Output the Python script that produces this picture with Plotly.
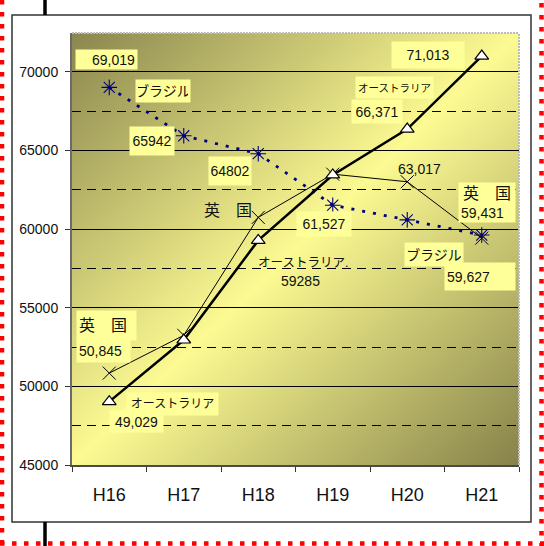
import base64
import plotly.graph_objects as go

# ---------------- data ----------------
years = ["H16", "H17", "H18", "H19", "H20", "H21"]
australia = [49029, 52950, 59285, 63450, 66371, 71013]
uk = [50845, 53250, 60750, 63500, 63017, 59431]
brazil = [69019, 65942, 64802, 61527, 60590, 59627]
y_ticks = [45000, 50000, 55000, 60000, 65000, 70000]

# label texts (as in the original)
lbl_brazil = ["69,019", "65942", "64802", "61,527", "59,627"]
lbl_aus = ["49,029", "59285", "66,371", "71,013"]
lbl_uk = ["50,845", "63,017", "59,431"]
name_aus = "オーストラリア"
name_uk = "英　国"
name_br = "ブラジル"

# ---------------- geometry ----------------
W, H = 544, 546
L, R, T, B = 72, 519, 33, 465


def px(x):
    return (x - L) / (R - L)


def py(y):
    return (B - y) / (B - T)


FONT = "Liberation Sans, Noto Sans CJK JP, sans-serif"

fig = go.Figure()

fig.add_trace(go.Scatter(
    x=years, y=brazil, mode="lines+markers", name=name_br,
    line=dict(color="#000080", width=2.8, dash="3px,8px"),
    marker=dict(symbol="asterisk-open", size=13, color="#000080",
                line=dict(color="#000080", width=1.1)),
))
fig.add_trace(go.Scatter(
    x=years, y=uk, mode="lines+markers", name=name_uk,
    line=dict(color="black", width=1),
    marker=dict(symbol="x-thin-open", size=13, color="black",
                line=dict(color="black", width=1)),
))
fig.add_trace(go.Scatter(
    x=years, y=australia, mode="lines+markers", name=name_aus,
    line=dict(color="black", width=2.5),
    marker=dict(symbol="triangle-up", size=12, color="white",
                line=dict(color="black", width=1.2)),
))

# ---------------- background gradient ----------------
svg = (
    '<svg xmlns="http://www.w3.org/2000/svg" width="100" height="100" '
    'viewBox="0 0 100 100" preserveAspectRatio="none">'
    '<defs><linearGradient id="g" x1="0" y1="0" x2="1" y2="1">'
    '<stop offset="0" stop-color="#8a864e"/>'
    '<stop offset="0.5" stop-color="#fcfa92"/>'
    '<stop offset="1" stop-color="#86824a"/>'
    '</linearGradient></defs>'
    '<rect width="100" height="100" fill="url(#g)"/></svg>'
)
uri = "data:image/svg+xml;base64," + base64.b64encode(svg.encode()).decode()
fig.add_layout_image(dict(
    source=uri, xref="paper", yref="paper", x=0, y=1, sizex=1, sizey=1,
    xanchor="left", yanchor="top", sizing="stretch", layer="below",
))

# ---------------- annotations ----------------
BOX = "#ffff99"
labels = [
    # text, cx, cy, size, width, height, bg, align
    (lbl_brazil[0], 106.5, 59.5, 14, 57, 15, BOX, "right"),
    (name_br, 163, 91, 14, 50, 18, BOX, "center"),
    (lbl_brazil[1], 152, 141, 14, 40, 24, BOX, "center"),
    (lbl_brazil[2], 230, 171, 14, 38, 24, BOX, "center"),
    (name_uk, 228, 210, 16, None, None, None, "center"),
    (lbl_brazil[3], 324, 224, 14, 50, 20, BOX, "center"),
    (name_aus + ".", 303, 263, 12.5, None, None, None, "center"),
    (lbl_aus[1], 300, 281, 14, None, None, None, "center"),
    (lbl_aus[3], 428, 55, 14, 68, 22, BOX, "center"),
    (name_aus, 394, 88, 10.5, 73, 17, BOX, "center"),
    (lbl_aus[2], 377, 112, 14, 46, 19, BOX, "center"),
    (lbl_uk[1], 419, 169, 14, None, None, None, "center"),
    (name_uk, 487, 193, 16, 52, 16, BOX, "center"),
    (lbl_uk[2], 487, 212.5, 14, 52, 15, BOX, "left"),
    (name_br, 434, 254.5, 14, 54, 19, BOX, "center"),
    (lbl_brazil[4], 480, 276.5, 14, 66, 23, BOX, "left"),
    (name_uk, 106.5, 325.5, 16, 55, 25, BOX, "left"),
    (lbl_uk[0], 103.5, 350.5, 14, 49, 19, BOX, "left"),
    (name_aus, 172.5, 404, 12, 87, 18, BOX, "center"),
    (lbl_aus[0], 136.5, 421.5, 14, 49, 17, BOX, "center"),
]
for text, cx, cy, size, w, h, bg, align in labels:
    kw = dict(
        text=text, x=px(cx), y=py(cy), xref="paper", yref="paper",
        showarrow=False, xanchor="center", yanchor="middle",
        font=dict(family=FONT, size=size, color="#111111"),
        align=align,
    )
    if bg:
        kw.update(bgcolor=bg, width=w, height=h, borderpad=2, valign="middle")
    fig.add_annotation(**kw)

# ---------------- frame decorations ----------------
shapes = []
# chart box
shapes.append(dict(type="rect", xref="paper", yref="paper",
                   x0=px(12), x1=px(531), y0=py(522), y1=py(15),
                   line=dict(color="#333333", width=1.5), layer="below"))
# top/right light border of plot area
shapes.append(dict(type="line", xref="paper", yref="paper",
                   x0=0, x1=1, y0=1, y1=1,
                   line=dict(color="#bdbdbd", width=2, dash="2px,1px")))
shapes.append(dict(type="line", xref="paper", yref="paper",
                   x0=1, x1=1, y0=0, y1=1,
                   line=dict(color="#bdbdbd", width=2, dash="2px,1px")))
# thick black vertical line
shapes.append(dict(type="line", xref="paper", yref="paper",
                   x0=px(45), x1=px(45), y0=py(0), y1=py(15),
                   line=dict(color="black", width=3.5)))
shapes.append(dict(type="line", xref="paper", yref="paper",
                   x0=px(45), x1=px(45), y0=py(522), y1=py(546),
                   line=dict(color="black", width=3.5)))
# red dotted border
red = dict(color="#ff0000", width=4.5, dash="4.5px,7.5px")
shapes.append(dict(type="line", xref="paper", yref="paper",
                   x0=px(2), x1=px(2), y0=py(0), y1=py(546), line=red))
shapes.append(dict(type="line", xref="paper", yref="paper",
                   x0=px(541.5), x1=px(541.5), y0=py(3), y1=py(546), line=red))
shapes.append(dict(type="line", xref="paper", yref="paper",
                   x0=px(0), x1=px(544), y0=py(543.5), y1=py(543.5), line=red))
fig.update_layout(shapes=shapes)

fig.update_layout(
    width=W, height=H,
    margin=dict(l=L, r=W - R, t=T, b=H - B),
    paper_bgcolor="white",
    plot_bgcolor="rgba(0,0,0,0)",
    showlegend=False,
    font=dict(family=FONT, color="#111111"),
    xaxis=dict(
        type="category", range=[-0.5, 5.5],
        showline=True, linecolor="#4a4a4a", linewidth=2,
        ticks="outside", tickson="boundaries", ticklen=5, tickcolor="#333333",
        tickfont=dict(size=18, family=FONT, color="#111111"),
        ticklabelstandoff=12,
        showgrid=False, zeroline=False, fixedrange=True,
    ),
    yaxis=dict(
        range=[45000, 72480], tickvals=y_ticks, tickformat="d",
        showline=True, linecolor="#6a6a6a", linewidth=2,
        ticks="outside", ticklen=5, tickcolor="#333333",
        tickfont=dict(size=14, family=FONT, color="#111111"),
        ticklabelstandoff=4,
        showgrid=True, gridcolor="black", gridwidth=1,
        zeroline=False, fixedrange=True,
        minor=dict(dtick=2500, tick0=45000, showgrid=True, gridcolor="black",
                   gridwidth=1, griddash="9px,6px", ticks=""),
    ),
)

fig.write_html(
    "out.html",
    config={"displayModeBar": False},
    post_script="document.body.style.margin='0';document.body.style.overflow='hidden';",
)
